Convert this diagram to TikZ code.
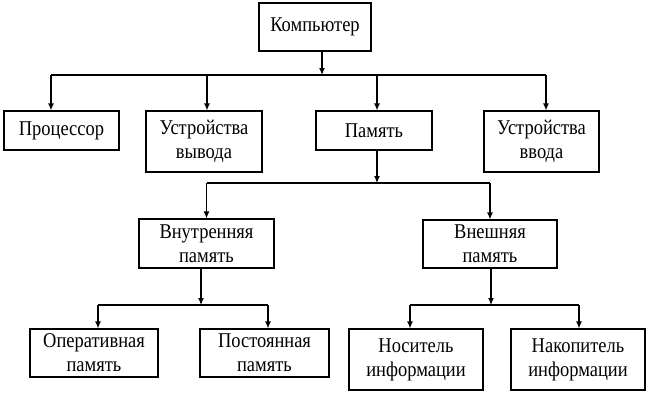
\documentclass[tikz,border=0pt]{standalone}
\usepackage{fontspec}
\setmainfont{Liberation Serif}[FakeStretch=0.88]
\usetikzlibrary{arrows.meta, positioning}
\tikzset{
  box/.style={rectangle,draw,line width=1.2pt,align=center,inner sep=0pt,
    font=\fontsize{21}{24}\selectfont},
  line/.style={-{Latex[length=7pt,width=6pt]},line width=1.2pt},
  bus/.style={line width=1.2pt}
}

\begin{document}
\begin{tikzpicture}[x=1pt,y=-1pt]
\useasboundingbox (0,0) rectangle (658,400);
% top level
\node[box, minimum width=112pt, minimum height=48pt] (comp) at (315,27) {Компьютер};
\node[box, minimum width=115pt, minimum height=39pt] (proc) at (61.5,130.5) {Процессор};
\node[box, minimum width=116pt, minimum height=61pt] (vyv) at (204,141.5) {Устройства\\вывода};
\node[box, minimum width=116pt, minimum height=39pt] (pam) at (374,130.5) {Память};
\node[box, minimum width=115pt, minimum height=61pt] (vvod) at (541.5,141.5) {Устройства\\ввода};
% memory
\node[box, minimum width=135pt, minimum height=49pt] (vnutr) at (206.5,243.5) {Внутренняя\\память};
\node[box, minimum width=134pt, minimum height=48pt] (vnesh) at (490,244) {Внешняя\\память};
\node[box, minimum width=128pt, minimum height=48pt] (oper) at (94,353) {Оперативная\\память};
\node[box, minimum width=129pt, minimum height=48pt] (post) at (264.5,353) {Постоянная\\память};
\node[box, minimum width=134pt, minimum height=61pt] (nos) at (416,359.5) {Носитель\\информации};
\node[box, minimum width=134pt, minimum height=61pt] (nak) at (578,359.5) {Накопитель\\информации};

% bus junctions
\coordinate (b1) at (322,75);
\coordinate (b2) at (377,183);
\coordinate (b3) at (201,305);
\coordinate (b4) at (491,305);

\draw[line] (comp.south -| b1) -- (b1);
\draw[bus] ([xshift=-10.5pt]proc.north |- b1) -- ([xshift=4.5pt]vvod.north |- b1);
\foreach \n/\dx in {proc/-10.5, vyv/3, pam/3, vvod/4.5}
  \draw[line] ([xshift=\dx pt]\n.north |- b1) -- ([xshift=\dx pt]\n.north);

\draw[line] (pam.south -| b2) -- (b2);
\draw[bus] (vnutr.north |- b2) -- (vnesh.north |- b2);
\foreach \n in {vnutr, vnesh}
  \draw[line] (\n.north |- b2) -- (\n.north);

\draw[line] (vnutr.south -| b3) -- (b3);
\draw[bus] ([xshift=4pt]oper.north |- b3) -- ([xshift=3.5pt]post.north |- b3);
\foreach \n/\dx in {oper/4, post/3.5}
  \draw[line] ([xshift=\dx pt]\n.north |- b3) -- ([xshift=\dx pt]\n.north);

\draw[line] (vnesh.south -| b4) -- (b4);
\draw[bus] ([xshift=-6pt]nos.north |- b4) -- ([xshift=1pt]nak.north |- b4);
\foreach \n/\dx in {nos/-6, nak/1}
  \draw[line] ([xshift=\dx pt]\n.north |- b4) -- ([xshift=\dx pt]\n.north);
\end{tikzpicture}
\end{document}
